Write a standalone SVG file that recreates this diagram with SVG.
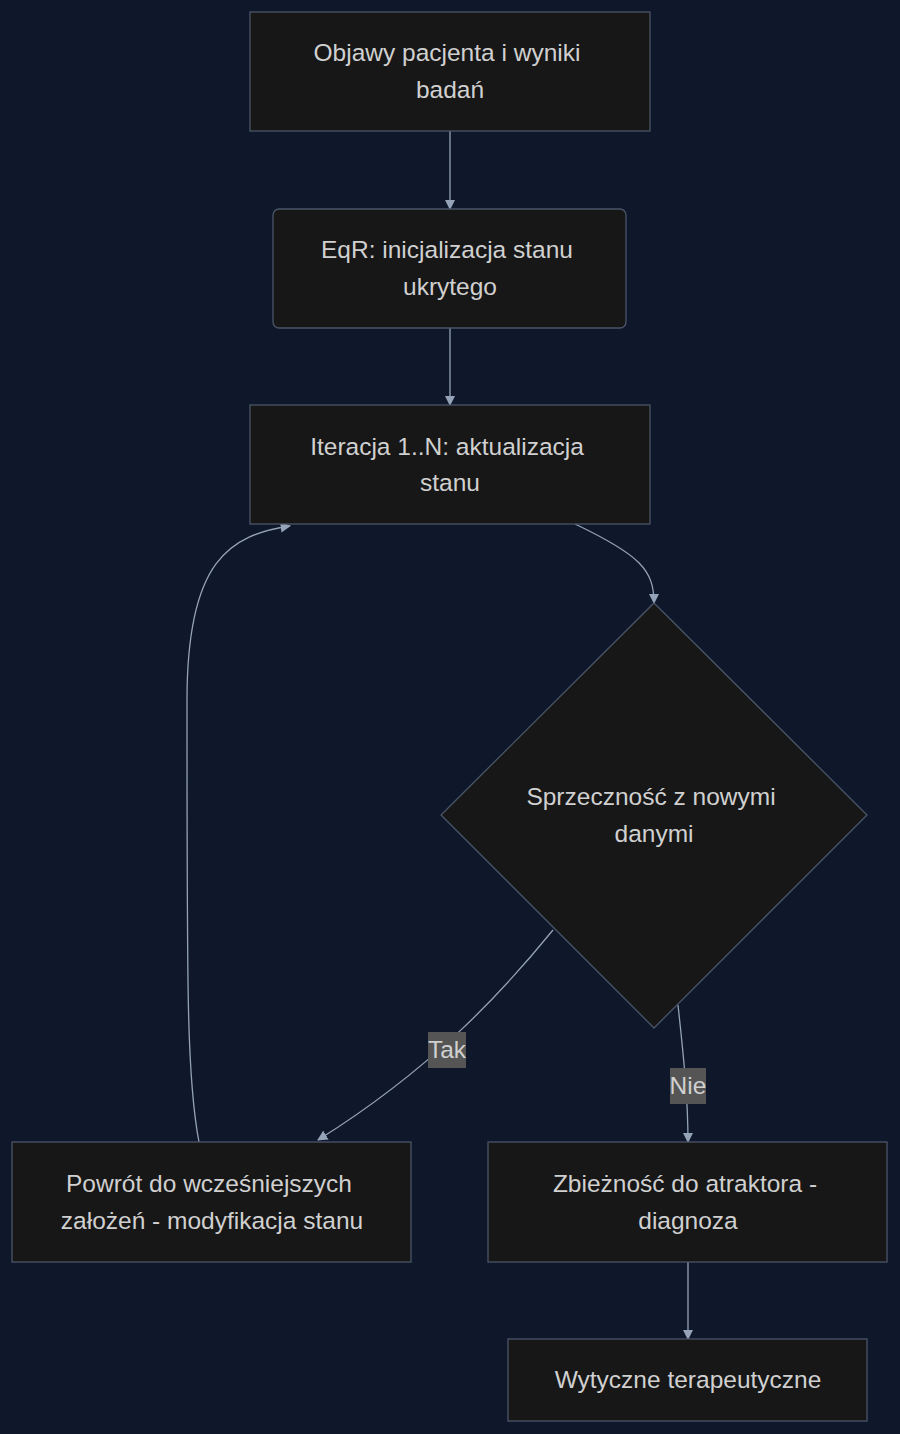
<svg xmlns="http://www.w3.org/2000/svg" width="900" height="1434" viewBox="0 0 900 1434">
<style>
.n{fill:#171717;stroke:#4a5568;stroke-width:1.3}
.t{font-family:"Liberation Sans",Arial,sans-serif;font-size:24.5px;fill:#d0d0d0;text-anchor:middle}
.e{fill:none;stroke:#94a3b8;stroke-width:1.3}
.lb{fill:#555555}
</style>
<defs><marker id="a" viewBox="0 0 10 10" refX="9" refY="5" markerWidth="8" markerHeight="8" orient="auto"><path d="M0,0L10,5L0,10z" fill="#94a3b8"/></marker></defs>
<rect width="900" height="1434" fill="#0f172a"/>
<g id="edges">
<path class="e" d="M450,131 L450,209" marker-end="url(#a)"/>
<path class="e" d="M450,328 L450,405" marker-end="url(#a)"/>
<path class="e" d="M575,524 C640,555 654,570 654,603" marker-end="url(#a)"/>
<path class="e" d="M553,930 C500,995 430,1070 318,1140" marker-end="url(#a)"/>
<path class="e" d="M678,1005 C684,1060 688,1100 688,1142" marker-end="url(#a)"/>
<path class="e" d="M199,1142 C187,1080 187,1000 187,700 C187,560 230,535 290,526" marker-end="url(#a)"/>
<path class="e" d="M688,1262 L688,1339" marker-end="url(#a)"/>
<rect class="lb" x="428" y="1032" width="38" height="36"/>
<text class="t" x="447" y="1058">Tak</text>
<rect class="lb" x="670" y="1068" width="36" height="36"/>
<text class="t" x="688" y="1094">Nie</text>
</g>
<g id="n1"><rect class="n" x="250" y="12" width="400" height="119"/><text class="t" x="447" y="61">Objawy pacjenta i wyniki</text><text class="t" x="450" y="98">badań</text></g>
<g id="n2"><rect class="n" x="273" y="209" width="353" height="119" rx="6"/><text class="t" x="447" y="258">EqR: inicjalizacja stanu</text><text class="t" x="450" y="295">ukrytego</text></g>
<g id="n3"><rect class="n" x="250" y="405" width="400" height="119"/><text class="t" x="447" y="455">Iteracja 1..N: aktualizacja</text><text class="t" x="450" y="491">stanu</text></g>
<g id="d"><polygon class="n" points="654,603 867,815 654,1028 441,815"/><text class="t" x="651" y="805">Sprzeczność z nowymi</text><text class="t" x="654" y="842">danymi</text></g>
<g id="n4"><rect class="n" x="12" y="1142" width="399" height="120"/><text class="t" x="209" y="1192">Powrót do wcześniejszych</text><text class="t" x="212" y="1229">założeń - modyfikacja stanu</text></g>
<g id="n5"><rect class="n" x="488" y="1142" width="399" height="120"/><text class="t" x="685" y="1192">Zbieżność do atraktora -</text><text class="t" x="688" y="1229">diagnoza</text></g>
<g id="n6"><rect class="n" x="508" y="1339" width="359" height="82"/><text class="t" x="688" y="1388">Wytyczne terapeutyczne</text></g>
</svg>
